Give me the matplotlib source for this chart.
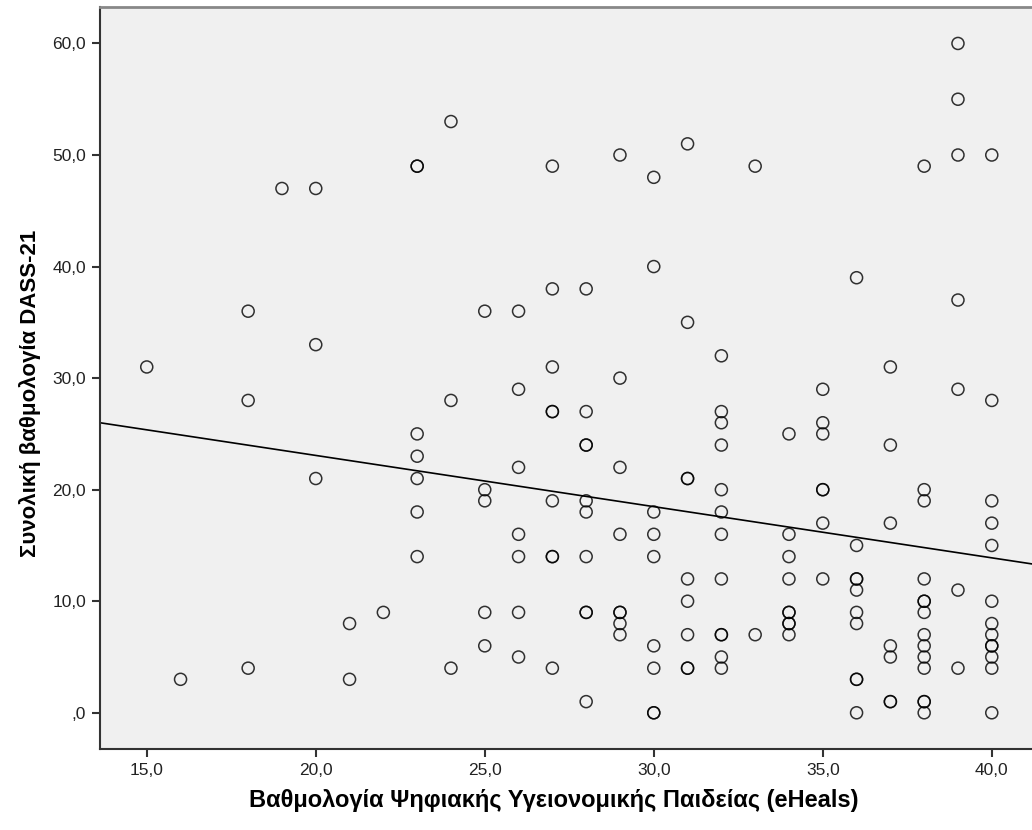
import numpy as np
import matplotlib
matplotlib.use('Agg')
import matplotlib.pyplot as plt

# eHeals score (x) and DASS-21 total score (y)
eheals = [15,
          16,
          18, 18, 18,
          19,
          20, 20, 20,
          21, 21,
          22,
          23, 23, 23, 23, 23, 23, 23,
          24, 24, 24,
          25, 25, 25, 25, 25,
          26, 26, 26, 26, 26, 26, 26,
          27, 27, 27, 27, 27, 27, 27, 27, 27,
          28, 28, 28, 28, 28, 28, 28, 28, 28, 28,
          29, 29, 29, 29, 29, 29, 29, 29,
          30, 30, 30, 30, 30, 30, 30, 30, 30,
          31, 31, 31, 31, 31, 31, 31, 31, 31,
          32, 32, 32, 32, 32, 32, 32, 32, 32, 32, 32, 32,
          33, 33,
          34, 34, 34, 34, 34, 34, 34, 34, 34,
          35, 35, 35, 35, 35, 35, 35,
          36, 36, 36, 36, 36, 36, 36, 36, 36, 36,
          37, 37, 37, 37, 37, 37, 37,
          38, 38, 38, 38, 38, 38, 38, 38, 38, 38, 38, 38, 38, 38,
          39, 39, 39, 39, 39, 39, 39,
          40, 40, 40, 40, 40, 40, 40, 40, 40, 40, 40, 40, 40]

dass = [31,
        3,
        36, 28, 4,
        47,
        47, 33, 21,
        8, 3,
        9,
        49, 49, 25, 23, 21, 18, 14,
        53, 28, 4,
        36, 20, 19, 9, 6,
        36, 29, 22, 16, 14, 9, 5,
        49, 38, 31, 27, 27, 19, 14, 14, 4,
        38, 27, 24, 24, 19, 18, 14, 9, 9, 1,
        50, 30, 22, 16, 9, 9, 8, 7,
        48, 40, 18, 16, 14, 6, 4, 0, 0,
        51, 35, 21, 21, 12, 10, 7, 4, 4,
        32, 27, 26, 24, 20, 18, 16, 12, 7, 7, 5, 4,
        49, 7,
        25, 16, 14, 12, 9, 9, 8, 8, 7,
        29, 26, 25, 20, 20, 17, 12,
        39, 15, 12, 12, 11, 9, 8, 3, 3, 0,
        31, 24, 17, 6, 5, 1, 1,
        49, 20, 19, 12, 10, 10, 9, 7, 6, 5, 4, 1, 1, 0,
        60, 55, 50, 37, 29, 11, 4,
        50, 28, 19, 17, 15, 10, 8, 7, 6, 6, 5, 4, 0]

# fit line as drawn in the original (intercept, slope)
fit_intercept = 32.25
fit_slope = -0.459

x_ticks = [15, 20, 25, 30, 35, 40]
y_ticks = [0, 10, 20, 30, 40, 50, 60]

plt.rcParams['font.family'] = ['Liberation Sans', 'DejaVu Sans']

fig = plt.figure(figsize=(10.32, 8.30), dpi=100)
ax = fig.add_axes([0.097, 0.097, 0.903, 0.895])
ax.set_facecolor('#f0f0f0')

# open circles, SPSS style
ax.scatter(eheals, dass, s=75, facecolors='none', edgecolors='black',
           linewidths=1.1, alpha=0.8, zorder=3)

# linear fit line across the whole x range
xmin, xmax = 13.62, 41.19
xs = np.array([xmin, xmax])
ax.plot(xs, fit_intercept + fit_slope * xs, color='black', linewidth=1.2, zorder=2)

ax.set_xlim(xmin, xmax)
ax.set_ylim(-3.29, 63.3)
ax.set_xticks(x_ticks)
ax.set_yticks(y_ticks)
ax.set_xticklabels([f'{v:.1f}'.replace('.', ',') for v in x_ticks])
ax.set_yticklabels([',0' if v == 0 else f'{v:.1f}'.replace('.', ',') for v in y_ticks])
ax.tick_params(axis='both', direction='out', length=6, width=1.5,
               color='#333333', labelsize=12.5, labelcolor='#222222', pad=4)

for side in ['left', 'bottom']:
    ax.spines[side].set_color('#333333')
    ax.spines[side].set_linewidth(1.5)
ax.spines['top'].set_color('#888888')
ax.spines['top'].set_linewidth(2)
ax.spines['right'].set_visible(False)

ax.set_xlabel('Βαθμολογία Ψηφιακής Υγειονομικής Παιδείας (eHeals)',
              fontsize=17, fontweight='bold')
ax.set_ylabel('Συνολική βαθμολογία DASS-21', fontsize=16, fontweight='bold')
ax.xaxis.set_label_coords(0.487, -0.053)
ax.yaxis.set_label_coords(-0.063, 0.48)

plt.savefig('out.png', dpi=100)
